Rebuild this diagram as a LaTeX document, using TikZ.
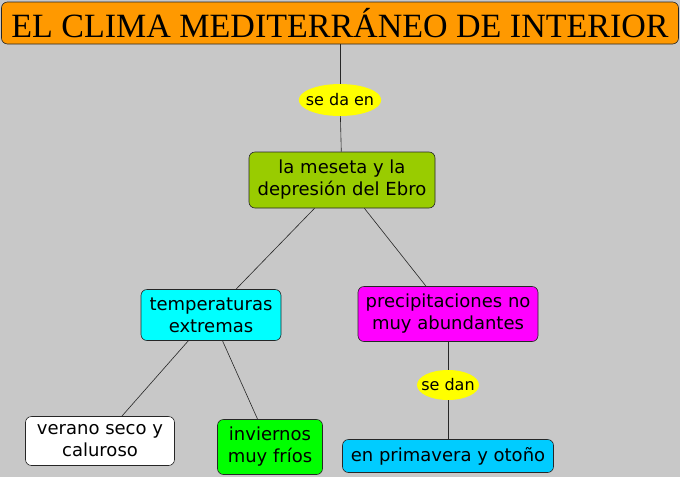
\documentclass[tikz,border=0pt]{standalone}
\usepackage{fontspec}
\setsansfont{DejaVu Sans}
\newfontfamily\titlefont{Liberation Serif}
\usetikzlibrary{shapes.geometric}
\definecolor{bg}{HTML}{C8C8C8}
\definecolor{titlecol}{HTML}{FF9900}
\definecolor{meseta}{HTML}{99CC00}
\definecolor{temps}{HTML}{00FFFF}
\definecolor{precip}{HTML}{FF00FF}
\definecolor{frio}{HTML}{00FF00}
\definecolor{otono}{HTML}{00CCFF}
\definecolor{linkcol}{HTML}{FFFF00}

\begin{document}
\begin{tikzpicture}[
    x=1pt, y=-1pt,
    % --- concept map styles ---
    concept/.style={
      draw=black!85, rectangle, rounded corners=6pt,
      align=center, font=\sffamily\fontsize{18}{22}\selectfont,
      inner sep=0pt, line width=0.6pt},
    linkword/.style={
      ellipse, fill=linkcol, inner ysep=0pt, inner xsep=-5pt,
      font=\sffamily\fontsize{16}{18}\selectfont},
    conn/.style={draw=black!85, line width=0.6pt},
  ]

  % ── Background ──
  \fill[bg] (0,0) rectangle (680,477);
  \useasboundingbox (0,0) rectangle (680,477);

  % ── Title ──
  \node[concept, fill=titlecol, minimum width=677pt, minimum height=42pt,
        font=\titlefont\fontsize{34}{34}\selectfont]
    (title) at (340,23) {EL CLIMA MEDITERRÁNEO DE INTERIOR};

  % ── Linking words ──
  \node[linkword, minimum width=80pt, minimum height=32pt] (seda) at (340,100) {se da en};
  \node[linkword, minimum width=62pt, minimum height=30pt] (sedan) at (448,385) {se dan};

  % ── Concepts ──
  \node[concept, fill=meseta, minimum width=186pt, minimum height=56pt]
    (mes) at (342,180) {la meseta y la\\depresión del Ebro};
  \node[concept, fill=temps, minimum width=140pt, minimum height=51pt]
    (tem) at (211,315) {temperaturas\\extremas};
  \node[concept, fill=precip, minimum width=180pt, minimum height=55pt]
    (pre) at (448,314) {precipitaciones no\\muy abundantes};
  \node[concept, fill=white, minimum width=149pt, minimum height=49pt]
    (ver) at (100,441) {verano seco y\\caluroso};
  \node[concept, fill=frio, minimum width=105pt, minimum height=55pt]
    (inv) at (270,447) {inviernos\\muy fríos};
  \node[concept, fill=otono, minimum width=211pt, minimum height=33pt]
    (pri) at (448,456) {en primavera y otoño};

  % ── Connectors ──
  \draw[conn] (title.south -| seda) -- (seda);
  \draw[conn] (seda) -- (mes);
  \draw[conn] (mes) -- (tem);
  \draw[conn] (mes) -- (pre);
  \draw[conn] (tem) -- (ver);
  \draw[conn] (tem) -- (inv);
  \draw[conn] (pre) -- (sedan);
  \draw[conn] (sedan) -- (pri);

\end{tikzpicture}
\end{document}
